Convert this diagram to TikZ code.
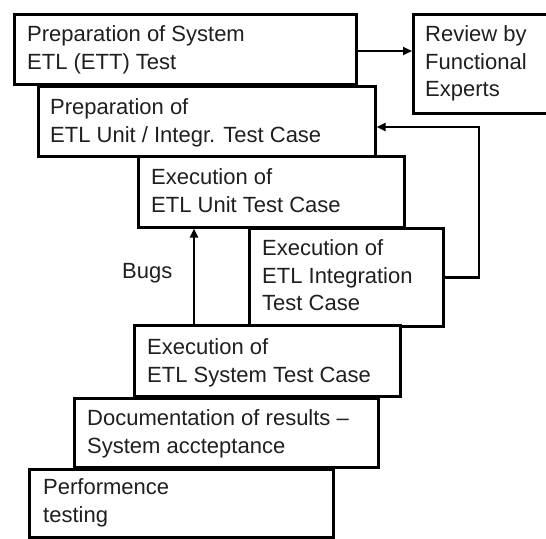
\documentclass[tikz,border=0pt]{standalone}
\usepackage{fontspec}
\setmainfont{Liberation Sans}
\usetikzlibrary{arrows.meta}
\begin{document}
\begin{tikzpicture}[x=1pt,y=-1pt,
  box/.style={draw=black,line width=2.6pt,inner sep=0pt,anchor=north west,fill=white},
  txt/.style={anchor=north west,inner sep=0pt,align=left,text=black!88,
    font=\fontsize{22}{27.5}\selectfont},
  arr/.style={line width=2.6pt,-{Triangle[length=9pt,width=8pt]}}]
\clip (0,0) rectangle (546,538);
\useasboundingbox (0,0) rectangle (546,538);
% boxes (left,top) with width/height
\node[box,minimum width=342pt,minimum height=70pt] (b1) at (13,13) {};
\node[box,minimum width=150pt,minimum height=99pt] (rev) at (412,13) {};
\node[box,minimum width=337pt,minimum height=70pt] (b2) at (37,85) {};
\node[box,minimum width=266pt,minimum height=71pt] (b3) at (137,155) {};
\node[box,minimum width=194pt,minimum height=98pt] (b4) at (248,227) {};
\node[box,minimum width=266pt,minimum height=71pt] (b5) at (133,324) {};
\node[box,minimum width=304pt,minimum height=69pt] (b6) at (73,397) {};
\node[box,minimum width=304pt,minimum height=68pt] (b7) at (28,468) {};
% texts
\node[txt] (t1) at (27,22.5) {\strut Preparation of System\\ETL (ETT) Test};
\node[txt] (trev) at (425,22.5) {\strut Review by\\Functional\\Experts};
\node[txt] (t2) at (50,95.5) {\strut Preparation of\\ETL Unit / Integr. Test Case};
\node[txt] (t3) at (151,165.5) {\strut Execution of\\ETL Unit Test Case};
\node[txt] (t4) at (262,236.5) {\strut Execution of\\ETL Integration\\Test Case};
\node[txt] (t5) at (147,335.5) {\strut Execution of\\ETL System Test Case};
\node[txt] (t6) at (87,406.5) {\strut Documentation of results –\\System accteptance};
\node[txt] (t7) at (43,475.5) {\strut Performence\\testing};
\node[anchor=base west,inner sep=0pt,text=black!88,font=\fontsize{22}{27.5}\selectfont] (bugs) at (122,278) {Bugs};
% connectors
\coordinate (a1) at (355,51);
\draw[arr] (a1) -- (rev.west |- a1);
\coordinate (fb) at (479,127);
\draw[arr] (b4.east) -| (fb) -- (b2.east |- fb);
\coordinate (bg) at (194,324);
\draw[arr] (bg) -- (b3.south -| bg);
\end{tikzpicture}
\end{document}
